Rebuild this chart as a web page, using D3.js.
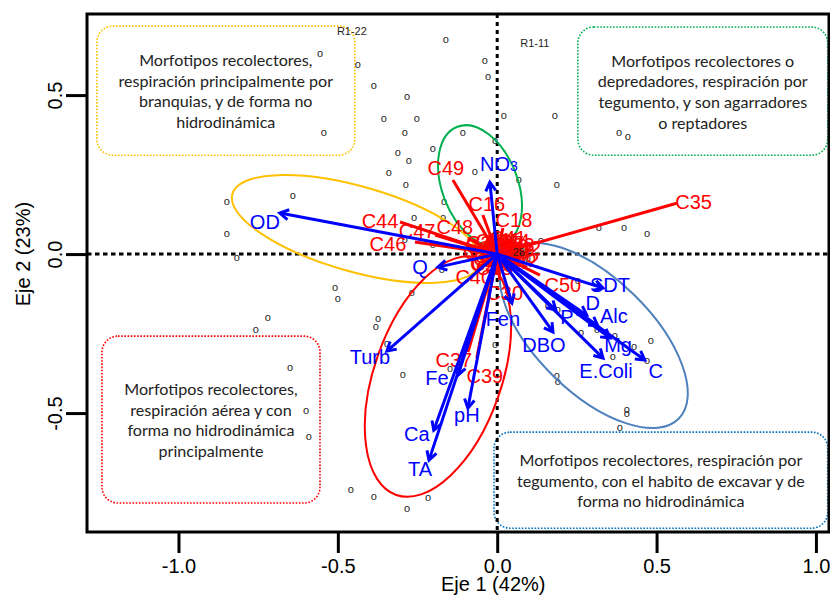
<!DOCTYPE html>
<html>
<head>
<meta charset="utf-8">
<script src="https://cdnjs.cloudflare.com/ajax/libs/d3/7.8.5/d3.min.js"></script>
<style>
body { margin: 0; background: #fff; }
text { font-family: "Liberation Sans", Arial, sans-serif; }
</style>
</head>
<body>
<script>
// site scores, drawn as small "o"
var sites = [
  [-0.556,0.629],[-0.437,0.594],[-0.387,0.528],[-0.283,0.494],[-0.356,0.425],[-0.252,0.425],
  [-0.544,0.381],[-0.290,0.381],[-0.312,0.318],[-0.277,0.292],[-0.340,0.255],[-0.287,0.217],
  [-0.641,0.182],[-0.848,0.164],[-0.848,0.063],[-0.817,-0.013],[-0.290,0.044],[-0.261,0.113],
  [-0.161,0.673],[-0.039,0.607],[-0.029,0.557],[0.021,0.434],[0.181,0.434],[0.382,0.381],
  [0.410,0.368],[-0.108,0.381],[-0.007,0.355],[-0.202,0.330],[-0.070,0.258],[0.068,0.233],
  [0.187,0.217],[-0.167,0.164],[-0.170,0.113],[0.319,0.082],[0.398,0.082],[0.470,0.063],
  [0.137,0.041],[-0.202,0.028],[0.096,-0.016],[-0.174,-0.050],[-0.268,-0.123],[-0.509,-0.107],
  [-0.500,-0.142],[-0.720,-0.201],[-0.757,-0.239],[-0.374,-0.204],[-0.381,-0.230],[-0.346,-0.283],
  [-0.650,-0.359],[-0.296,-0.381],[-0.600,-0.494],[-0.591,-0.576],[-0.459,-0.742],[-0.387,-0.764],
  [-0.283,-0.802],[-0.148,-0.362],[-0.007,-0.286],[-0.217,-0.767],[0.253,-0.085],[0.159,-0.164],
  [0.190,-0.176],[0.263,-0.248],[0.313,-0.239],[0.369,-0.258],[0.429,-0.292],[0.482,-0.274],
  [0.363,-0.324],[0.470,-0.337],[0.187,-0.384],[0.190,-0.403],[0.407,-0.491],[0.407,-0.503],
  [0.385,-0.547]
];
var siteNames = ["R1-22", "R1-11", "28"];
var siteNameX = [-0.456, 0.118, 0.068];
var siteNameY = [0.701, 0.664, 0.006];

// environmental vectors (blue arrows)
var envNames = ["OD","NO3","Q","Turb","Fe","Ca","TA","pH","Fen","DBO","E.Coli","P","D","Alc","Mg","C","SDT"];
var envX = [-0.682,-0.023,-0.186,-0.346,-0.123,-0.199,-0.214,-0.092,0.046,0.175,0.332,0.184,0.281,0.316,0.354,0.463,0.332];
var envY = [0.129,0.226,-0.041,-0.305,-0.381,-0.554,-0.648,-0.484,-0.154,-0.245,-0.327,-0.176,-0.192,-0.226,-0.264,-0.333,-0.107];

// morphotype scores (red lines)
var sppNames = ["C35","C49","C16","C18","C44","C47","C48","C46","C40","C30","C50","C37","C39",
                "C41","C11","C14","C1","C2","C3","C4","C5","C6","C7","C8","C9","C10","C12","C13","C15","C20","C21","C22",
                "C17","C19","C23","C24","C25","C26","C27","C29","C32","C33","C34","C42"];
var sppX = [0.563,-0.139,-0.045,0.018,-0.305,-0.195,-0.092,-0.258,-0.061,0.008,0.134,-0.092,-0.064,
            0.034,0.020,0.045,0.030,-0.020,0.050,-0.060,0.015,-0.035,0.070,0.000,-0.045,0.040,0.075,-0.030,-0.010,0.020,-0.015,0.055,
            0.025,-0.010,0.060,0.035,-0.025,0.065,0.010,-0.040,0.045,0.005,-0.050,0.080];
var sppY = [0.160,0.233,0.123,0.082,0.101,0.060,0.050,0.038,-0.044,-0.082,-0.066,-0.308,-0.327,
            0.050,0.045,0.040,0.010,0.020,-0.010,0.025,-0.035,-0.015,0.005,0.030,-0.030,0.025,-0.020,0.010,-0.045,-0.015,-0.005,0.015,
            0.035,0.040,0.030,-0.025,-0.030,-0.005,0.015,0.035,0.010,-0.020,0.005,0.020];

// group ellipses: centre, semi axes (axis units), tilt in degrees
var ellipses = [
  {cx:-0.442, cy:0.079, rx:0.404, ry:0.134, tilt:15.8},
  {cx:-0.054, cy:0.215, rx:0.198, ry:0.119, tilt:69},
  {cx:-0.186, cy:-0.385, rx:0.394, ry:0.200, tilt:-70.6},
  {cx:0.303, cy:-0.256, rx:0.373, ry:0.180, tilt:44.3}
];

var xTicks = [-1.0, -0.5, 0.0, 0.5, 1.0];
var yTicks = [-0.5, 0.0, 0.5];

var boxTexts = [
  ["Morfotipos recolectores,", "respiración principalmente por", "branquias, y de forma no", "hidrodinámica"],
  ["Morfotipos recolectores o", "depredadores, respiración por", "tegumento, y son agarradores", "o reptadores"],
  ["Morfotipos recolectores,", "respiración aérea y con", "forma no hidrodinámica", "principalmente"],
  ["Morfotipos recolectores, respiración por", "tegumento, con el habito de excavar y de", "forma no hidrodinámica"]
];
// box corners in axis units
var boxX0 = [-1.256, 0.253, -1.240, -0.010];
var boxX1 = [-0.447, 1.037, -0.556, 1.037];
var boxY0 = [0.717, 0.714, -0.258, -0.560];
var boxY1 = [0.311, 0.311, -0.783, -0.862];

var ellipseColors = ["#FFC000", "#00B050", "#FF0000", "#4F81BD"];
var boxColors = ["#FFC000", "#00B050", "#FF0000", "#0070C0"];

// label offsets in pixels from the tip
var nudge = {
  OD:[-15,9], NO3:[9,-18], Q:[-18,0], Turb:[-17,6], Fe:[-21,3], Ca:[-17,4], TA:[-9,9], pH:[-1,7],
  Fen:[-9,16], DBO:[-9,13], "E.Coli":[3,13], P:[11,7], D:[6,-12], Alc:[16,-10], Mg:[8,7], C:[11,11], SDT:[7,-3],
  C35:[17,-1], C49:[-7,-12], C16:[4,-11], C18:[11,-8], C44:[-20,-1], C47:[-18,-4], C48:[-13,-11],
  C46:[-27,2], C40:[-4,9], C30:[5,13], C50:[23,10], C37:[-14,8], C39:[8,18]
};

var width = 830, height = 598;
var svg = d3.select("body").append("svg")
    .attr("width", width)
    .attr("height", height);

var x = d3.scaleLinear().domain([-1.287, 1.041]).range([87, 829]);
var y = d3.scaleLinear().domain([-0.874, 0.755]).range([532, 14]);
var fmt = function(d) { return d.toFixed(1); };

// annotation boxes
boxTexts.forEach(function(lines, i) {
  var bx0 = x(boxX0[i]), bx1 = x(boxX1[i]), by0 = y(boxY0[i]), by1 = y(boxY1[i]);
  svg.append("rect")
     .attr("x", bx0).attr("y", by0)
     .attr("width", bx1 - bx0).attr("height", by1 - by0)
     .attr("rx", 16).attr("ry", 16)
     .attr("fill", "none")
     .attr("stroke", boxColors[i])
     .attr("stroke-width", 1.6)
     .attr("stroke-dasharray", "1.6,1.6");
  var cxB = (bx0 + bx1) / 2, cyB = (by0 + by1) / 2;
  svg.selectAll(null).data(lines).enter().append("text")
     .attr("x", cxB)
     .attr("y", function(d, j) { return cyB + (j - (lines.length - 1) / 2) * 20.7 + 6.5; })
     .attr("text-anchor", "middle")
     .style("font-family", "Lato, 'Open Sans', sans-serif")
     .style("font-size", "16.1px")
     .attr("fill", "#222")
     .text(function(d) { return d; });
});

// zero lines
svg.append("line")
   .attr("x1", x(0)).attr("x2", x(0)).attr("y1", 14).attr("y2", 532)
   .attr("stroke", "#000").attr("stroke-width", 3).attr("stroke-dasharray", "4,4");
svg.append("line")
   .attr("x1", 87).attr("x2", 829).attr("y1", y(0)).attr("y2", y(0))
   .attr("stroke", "#000").attr("stroke-width", 3).attr("stroke-dasharray", "4.5,3.5");

// sites
svg.append("g").attr("opacity", 0.99)
   .selectAll("text").data(sites).enter().append("text")
   .attr("x", function(d) { return x(d[0]); })
   .attr("y", function(d) { return y(d[1]); })
   .attr("dy", "0.27em")
   .attr("text-anchor", "middle")
   .style("font-size", "11px")
   .attr("fill", "#222")
   .text("o");

// ellipses
svg.selectAll(".ell").data(ellipses).enter().append("ellipse")
   .attr("cx", function(d) { return x(d.cx); })
   .attr("cy", function(d) { return y(d.cy); })
   .attr("rx", function(d) { return x(d.rx) - x(0); })
   .attr("ry", function(d) { return y(0) - y(d.ry); })
   .attr("transform", function(d) { return "rotate(" + d.tilt + "," + x(d.cx) + "," + y(d.cy) + ")"; })
   .attr("fill", "none")
   .attr("stroke", function(d, i) { return ellipseColors[i]; })
   .attr("stroke-width", 2);

// morphotype lines and labels
svg.selectAll(".spp").data(sppNames).enter().append("line")
   .attr("x1", x(0)).attr("y1", y(0))
   .attr("x2", function(d, i) { return x(sppX[i]); })
   .attr("y2", function(d, i) { return y(sppY[i]); })
   .attr("stroke", "#FF0000").attr("stroke-width", 3);

svg.selectAll(".spplab").data(sppNames).enter().append("text")
   .attr("x", function(d, i) { return x(sppX[i]) + (nudge[d] ? nudge[d][0] : 0); })
   .attr("y", function(d, i) { return y(sppY[i]) + (nudge[d] ? nudge[d][1] : 0); })
   .attr("dy", "0.35em")
   .attr("text-anchor", "middle")
   .style("font-size", "20px")
   .attr("fill", "#FF0000")
   .text(function(d) { return d; });

// environmental arrows
envNames.forEach(function(name, i) {
  var x0 = x(0), y0 = y(0), x1 = x(envX[i]), y1 = y(envY[i]);
  var a = Math.atan2(y1 - y0, x1 - x0), len = 10;
  svg.append("line")
     .attr("x1", x0).attr("y1", y0).attr("x2", x1).attr("y2", y1)
     .attr("stroke", "#0000FF").attr("stroke-width", 3);
  svg.append("path")
     .attr("d", "M" + (x1 - len * Math.cos(a - Math.PI / 6)) + "," + (y1 - len * Math.sin(a - Math.PI / 6)) +
                "L" + x1 + "," + y1 +
                "L" + (x1 - len * Math.cos(a + Math.PI / 6)) + "," + (y1 - len * Math.sin(a + Math.PI / 6)))
     .attr("fill", "none").attr("stroke", "#0000FF").attr("stroke-width", 3);
});

envNames.forEach(function(name, i) {
  var t = svg.append("text")
     .attr("x", x(envX[i]) + nudge[name][0])
     .attr("y", y(envY[i]) + nudge[name][1])
     .attr("dy", "0.35em")
     .attr("text-anchor", "middle")
     .style("font-size", "20px")
     .attr("fill", "#0000FF");
  if (name == "NO3") {
    t.append("tspan").text("NO");
    t.append("tspan").style("font-size", "14px").text("3");
  } else {
    t.text(name);
  }
});

// site names sit on top of the red cluster
svg.append("g").attr("opacity", 0.99)
   .selectAll("text").data(siteNames).enter().append("text")
   .attr("x", function(d, i) { return x(siteNameX[i]); })
   .attr("y", function(d, i) { return y(siteNameY[i]); })
   .attr("dy", "0.35em")
   .attr("text-anchor", "middle")
   .style("font-size", "11px")
   .attr("fill", "#222")
   .text(function(d) { return d; });

// frame and axes
svg.append("rect")
   .attr("x", 87).attr("y", 14).attr("width", 742).attr("height", 518)
   .attr("fill", "none").attr("stroke", "#000").attr("stroke-width", 3);

var xAxis = svg.append("g")
   .attr("transform", "translate(0,532)")
   .call(d3.axisBottom(x).tickValues(xTicks).tickSize(21).tickPadding(6).tickFormat(fmt));
var yAxis = svg.append("g")
   .attr("transform", "translate(87,0)")
   .call(d3.axisLeft(y).tickValues(yTicks).tickSize(21).tickFormat(fmt));
[xAxis, yAxis].forEach(function(g) {
  g.select(".domain").remove();
  g.selectAll("line").attr("stroke-width", 3);
  g.selectAll("text").style("font-size", "20px").style("font-family", "'Liberation Sans', Arial, sans-serif");
});
yAxis.selectAll("text")
   .attr("transform", "rotate(-90)")
   .attr("x", 0).attr("y", -25).attr("dy", 0)
   .style("text-anchor", "middle");

svg.append("text")
   .attr("x", x(0) - 4).attr("y", 591)
   .attr("text-anchor", "middle")
   .style("font-size", "20px")
   .text("Eje 1 (42%)");
svg.append("text")
   .attr("transform", "translate(30," + y(0) + ") rotate(-90)")
   .attr("text-anchor", "middle")
   .style("font-size", "20px")
   .text("Eje 2 (23%)");
</script>
</body>
</html>
